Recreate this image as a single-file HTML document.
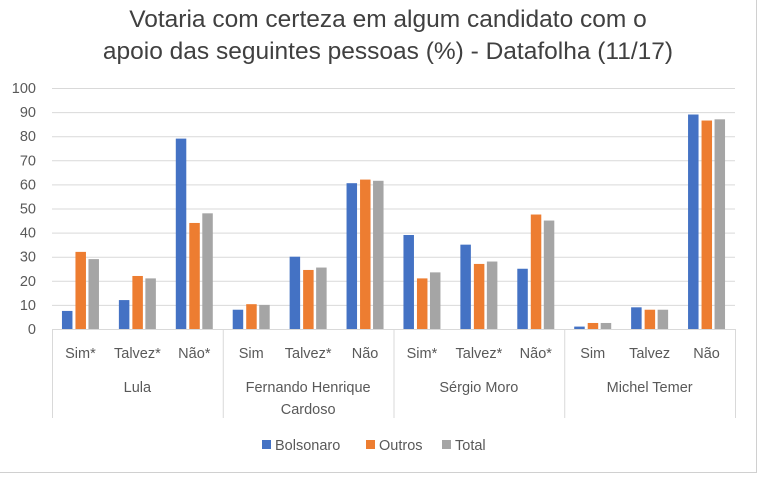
<!DOCTYPE html>
<html><head><meta charset="utf-8"><style>
body{margin:0;background:#fff;}
svg text{font-family:"Liberation Sans",sans-serif;fill:#595959;}
</style></head><body>
<svg id="s" width="768" height="492" xmlns="http://www.w3.org/2000/svg">
<rect x="0" y="0" width="768" height="492" fill="#fff"/>
<line x1="756.5" y1="0" x2="756.5" y2="473" stroke="#d0d0d0"/>
<line x1="0" y1="472.5" x2="757" y2="472.5" stroke="#d0d0d0"/>
<text x="388" y="27" text-anchor="middle" font-size="24.5" style="fill:#404040">Votaria com certeza em algum candidato com o</text>
<text x="388" y="59" text-anchor="middle" font-size="24.5" style="fill:#404040">apoio das seguintes pessoas (%) - Datafolha (11/17)</text>
<g id="g"></g>
<g font-size="14.5">
<rect x="262" y="440" width="9" height="9" fill="#4472C4"/><text x="275" y="450">Bolsonaro</text>
<rect x="366" y="440" width="9" height="9" fill="#ED7D31"/><text x="379" y="450">Outros</text>
<rect x="442" y="440" width="9" height="9" fill="#A5A5A5"/><text x="455" y="450">Total</text>
</g>
</svg>
<script>
var g=document.getElementById('g'),h='';
var y0=329,k=2.41,L=52,R=735,w=(R-L)/12;
for(var v=0;v<=100;v+=10){var y=y0-v*k;h+='<line x1="'+L+'" x2="'+R+'" y1="'+(y+.5)+'" y2="'+(y+.5)+'" stroke="#d9d9d9"/>';
h+='<text x="36" y="'+(y+5)+'" text-anchor="end" font-size="14.5">'+v+'</text>';}
var d=[[7.5,32,29],[12,22,21],[79,44,48],[8,10.3,10],[30,24.5,25.5],[60.5,62,61.5],[39,21,23.5],[35,27,28],[25,47.5,45],[1,2.5,2.5],[9,8,8],[89,86.5,87]];
var lab=['Sim*','Talvez*','Não*','Sim','Talvez*','Não','Sim*','Talvez*','Não*','Sim','Talvez','Não'];
var col=['#4472C4','#ED7D31','#A5A5A5'],off=[-18.5,-5,8];
for(var i=0;i<12;i++){var c=L+w*(i+.5);
for(var j=0;j<3;j++){var hh=d[i][j]*k;h+='<rect x="'+(c+off[j])+'" y="'+(y0-hh)+'" width="10.5" height="'+hh+'" fill="'+col[j]+'"/>';}
h+='<text x="'+c+'" y="358" text-anchor="middle" font-size="14.5">'+lab[i]+'</text>';}
for(var m=0;m<=4;m++){var x=L+w*3*m;h+='<line x1="'+(x+.5)+'" x2="'+(x+.5)+'" y1="329" y2="418" stroke="#d9d9d9"/>';}
h+='<line x1="'+L+'" x2="'+R+'" y1="329.5" y2="329.5" stroke="#d9d9d9"/>';
var gl=[['Lula'],['Fernando Henrique','Cardoso'],['Sérgio Moro'],['Michel Temer']];
for(var m=0;m<4;m++){var cx=L+w*3*(m+.5);for(var t=0;t<gl[m].length;t++)h+='<text x="'+cx+'" y="'+(392+t*22)+'" text-anchor="middle" font-size="14.5">'+gl[m][t]+'</text>';}
g.innerHTML=h;
</script>
</body></html>
